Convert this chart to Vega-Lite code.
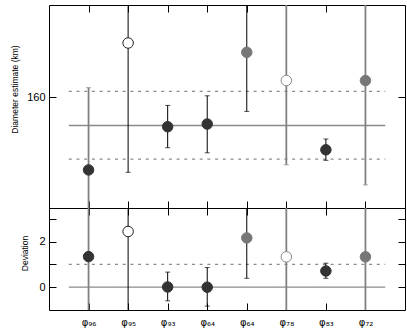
{
  "$schema": "https://vega.github.io/schema/vega-lite/v6.json",
  "padding": {"left": 9, "top": 4, "right": 3, "bottom": 2},
  "spacing": 0,
  "bounds": "flush",
  "config": {
    "view": {"stroke": "#000", "strokeWidth": 1},
    "axis": {"grid": false, "domain": false, "labelFont": "Liberation Sans", "titleFont": "Liberation Sans", "labelColor": "#000", "titleColor": "#000", "titleFontWeight": "normal", "titleFontSize": 8.5, "labelFontSize": 11, "tickColor": "#000", "tickSize": -7, "tickWidth": 1}
  },
  "datasets": {
    "upper": [
      {"idx": 1, "name": "φ96", "d": 135.7, "lo": 110, "hi": 163.1, "pt": "dark", "bar": "b"},
      {"idx": 2, "name": "φ95", "d": 178.0, "lo": 134.9, "hi": 200, "pt": "open", "bar": "a"},
      {"idx": 3, "name": "φ93", "d": 150.1, "lo": 143.1, "hi": 157.2, "pt": "dark", "bar": "a"},
      {"idx": 4, "name": "φ64", "d": 151.0, "lo": 141.4, "hi": 160.4, "pt": "dark", "bar": "a"},
      {"idx": 5, "name": "φ64", "d": 174.9, "lo": 155.2, "hi": 200, "pt": "gray", "bar": "a"},
      {"idx": 6, "name": "φ78", "d": 165.5, "lo": 137.4, "hi": 200, "pt": "opengray", "bar": "b"},
      {"idx": 7, "name": "φ83", "d": 142.4, "lo": 138.9, "hi": 146.0, "pt": "dark", "bar": "a"},
      {"idx": 8, "name": "φ72", "d": 165.5, "lo": 130.7, "hi": 200, "pt": "gray", "bar": "b"}
    ],
    "upperRef": [
      {"x1": 0.5, "x2": 8.5, "v": 150.5, "kind": "mean"},
      {"x1": 0.5, "x2": 8.5, "v": 161.9, "kind": "sd"},
      {"x1": 0.5, "x2": 8.5, "v": 139.3, "kind": "sd"}
    ],
    "lower": [
      {"idx": 1, "name": "φ96", "d": 1.34, "lo": -2, "hi": 5, "pt": "dark", "bar": "b"},
      {"idx": 2, "name": "φ95", "d": 2.44, "lo": -2, "hi": 5, "pt": "open", "bar": "a"},
      {"idx": 3, "name": "φ93", "d": 0.01, "lo": -0.6, "hi": 0.66, "pt": "dark", "bar": "a"},
      {"idx": 4, "name": "φ64", "d": 0.0, "lo": -0.83, "hi": 0.86, "pt": "dark", "bar": "a"},
      {"idx": 5, "name": "φ64", "d": 2.16, "lo": 0.39, "hi": 5, "pt": "gray", "bar": "a"},
      {"idx": 6, "name": "φ78", "d": 1.33, "lo": -2, "hi": 5, "pt": "opengray", "bar": "b"},
      {"idx": 7, "name": "φ83", "d": 0.71, "lo": 0.39, "hi": 1.05, "pt": "dark", "bar": "a"},
      {"idx": 8, "name": "φ72", "d": 1.33, "lo": -2, "hi": 5, "pt": "gray", "bar": "b"}
    ],
    "lowerRef": [
      {"x1": 0.5, "x2": 8.5, "v": 0, "kind": "mean"},
      {"x1": 0.5, "x2": 8.5, "v": 1, "kind": "sd"}
    ]
  },
  "vconcat": [
    {
      "width": 356,
      "height": 203,
      "resolve": {"axis": {"x": "independent", "y": "independent"}},
      "layer": [
        {
          "data": {"name": "upperRef"},
          "mark": {"type": "rule", "color": "#8a8a8a", "strokeWidth": 1.3},
          "encoding": {
            "x": {"field": "x1", "type": "quantitative", "scale": {"domain": [0, 9], "nice": false, "zero": false}, "axis": {"orient": "bottom", "values": [1, 2, 3, 4, 5, 6, 7, 8], "labels": false, "title": null}},
            "x2": {"field": "x2"},
            "y": {"field": "v", "type": "quantitative", "scale": {"domain": [123, 190.67], "nice": false, "zero": false}, "axis": {"orient": "left", "values": [160], "labelPadding": 11, "title": "Diameter estimate (km)", "titleX": -30, "titleY": 84}},
            "strokeDash": {"field": "kind", "type": "nominal", "scale": {"domain": ["mean", "sd"], "range": [[1, 0], [3, 4.7]]}, "legend": null}
          }
        },
        {
          "data": {"name": "upper"},
          "mark": {"type": "rule", "clip": true},
          "encoding": {
            "x": {"field": "idx", "type": "quantitative", "axis": {"orient": "top", "values": [1, 2, 3, 4, 5, 6, 7, 8], "labels": false, "title": null}},
            "y": {"field": "lo", "type": "quantitative", "axis": {"orient": "right", "values": [160], "labels": false, "title": null}},
            "y2": {"field": "hi"},
            "color": {"field": "bar", "type": "nominal", "scale": {"domain": ["a", "b"], "range": ["#000000", "#808080"]}, "legend": null},
            "size": {"field": "bar", "type": "ordinal", "scale": {"domain": ["a", "b"], "range": [1, 1.8]}, "legend": null}
          }
        },
        {
          "data": {"name": "upper"},
          "mark": {"type": "tick", "orient": "horizontal", "clip": true, "thickness": 1, "size": 5},
          "encoding": {
            "x": {"field": "idx", "type": "quantitative", "axis": null},
            "y": {"field": "lo", "type": "quantitative", "axis": null},
            "color": {"field": "bar", "type": "nominal", "scale": {"domain": ["a", "b"], "range": ["#000000", "#808080"]}, "legend": null}
          }
        },
        {
          "data": {"name": "upper"},
          "mark": {"type": "tick", "orient": "horizontal", "clip": true, "thickness": 1, "size": 5},
          "encoding": {
            "x": {"field": "idx", "type": "quantitative", "axis": null},
            "y": {"field": "hi", "type": "quantitative", "axis": null},
            "color": {"field": "bar", "type": "nominal", "scale": {"domain": ["a", "b"], "range": ["#000000", "#808080"]}, "legend": null}
          }
        },
        {
          "data": {"name": "upper"},
          "mark": {"type": "circle", "size": 110, "opacity": 1, "strokeWidth": 1},
          "encoding": {
            "x": {"field": "idx", "type": "quantitative", "axis": null},
            "y": {"field": "d", "type": "quantitative", "axis": null},
            "fill": {"field": "pt", "type": "nominal", "scale": {"domain": ["dark", "gray", "open", "opengray"], "range": ["#333333", "#777777", "#ffffff", "#ffffff"]}, "legend": null},
            "stroke": {"field": "pt", "type": "nominal", "scale": {"domain": ["dark", "gray", "open", "opengray"], "range": ["#333333", "#777777", "#222222", "#888888"]}, "legend": null}
          }
        }
      ]
    },
    {
      "width": 356,
      "height": 102,
      "resolve": {"axis": {"x": "independent", "y": "independent"}},
      "layer": [
        {
          "data": {"name": "lowerRef"},
          "mark": {"type": "rule", "color": "#8a8a8a", "strokeWidth": 1.3},
          "encoding": {
            "x": {"field": "x1", "type": "quantitative", "scale": {"domain": [0, 9], "nice": false, "zero": false}, "axis": {"orient": "bottom", "values": [1, 2, 3, 4, 5, 6, 7, 8], "labelExpr": "['', 'φ₉₆', 'φ₉₅', 'φ₉₃', 'φ₆₄', 'φ₆₄', 'φ₇₈', 'φ₈₃', 'φ₇₂'][datum.value]", "labelFont": "DejaVu Sans", "labelFontSize": 10, "labelPadding": 14, "title": null}},
            "x2": {"field": "x2"},
            "y": {"field": "v", "type": "quantitative", "scale": {"domain": [-1, 3.47], "nice": false, "zero": false}, "axis": {"orient": "left", "values": [0, 1, 2, 3], "labelExpr": "datum.value == 0 || datum.value == 2 ? datum.label : ''", "labelPadding": 11, "title": "Deviation", "titleX": -20, "titleY": 45}},
            "strokeDash": {"field": "kind", "type": "nominal", "scale": {"domain": ["mean", "sd"], "range": [[1, 0], [3, 4.7]]}, "legend": null}
          }
        },
        {
          "data": {"name": "lower"},
          "mark": {"type": "rule", "clip": true},
          "encoding": {
            "x": {"field": "idx", "type": "quantitative", "axis": {"orient": "top", "values": [1, 2, 3, 4, 5, 6, 7, 8], "labels": false, "title": null}},
            "y": {"field": "lo", "type": "quantitative", "axis": {"orient": "right", "values": [0, 1, 2, 3], "labels": false, "title": null}},
            "y2": {"field": "hi"},
            "color": {"field": "bar", "type": "nominal", "scale": {"domain": ["a", "b"], "range": ["#000000", "#808080"]}, "legend": null},
            "size": {"field": "bar", "type": "ordinal", "scale": {"domain": ["a", "b"], "range": [1, 1.8]}, "legend": null}
          }
        },
        {
          "data": {"name": "lower"},
          "mark": {"type": "tick", "orient": "horizontal", "clip": true, "thickness": 1, "size": 5},
          "encoding": {
            "x": {"field": "idx", "type": "quantitative", "axis": null},
            "y": {"field": "lo", "type": "quantitative", "axis": null},
            "color": {"field": "bar", "type": "nominal", "scale": {"domain": ["a", "b"], "range": ["#000000", "#808080"]}, "legend": null}
          }
        },
        {
          "data": {"name": "lower"},
          "mark": {"type": "tick", "orient": "horizontal", "clip": true, "thickness": 1, "size": 5},
          "encoding": {
            "x": {"field": "idx", "type": "quantitative", "axis": null},
            "y": {"field": "hi", "type": "quantitative", "axis": null},
            "color": {"field": "bar", "type": "nominal", "scale": {"domain": ["a", "b"], "range": ["#000000", "#808080"]}, "legend": null}
          }
        },
        {
          "data": {"name": "lower"},
          "mark": {"type": "circle", "size": 110, "opacity": 1, "strokeWidth": 1},
          "encoding": {
            "x": {"field": "idx", "type": "quantitative", "axis": null},
            "y": {"field": "d", "type": "quantitative", "axis": null},
            "fill": {"field": "pt", "type": "nominal", "scale": {"domain": ["dark", "gray", "open", "opengray"], "range": ["#333333", "#777777", "#ffffff", "#ffffff"]}, "legend": null},
            "stroke": {"field": "pt", "type": "nominal", "scale": {"domain": ["dark", "gray", "open", "opengray"], "range": ["#333333", "#777777", "#222222", "#888888"]}, "legend": null}
          }
        }
      ]
    }
  ]
}
